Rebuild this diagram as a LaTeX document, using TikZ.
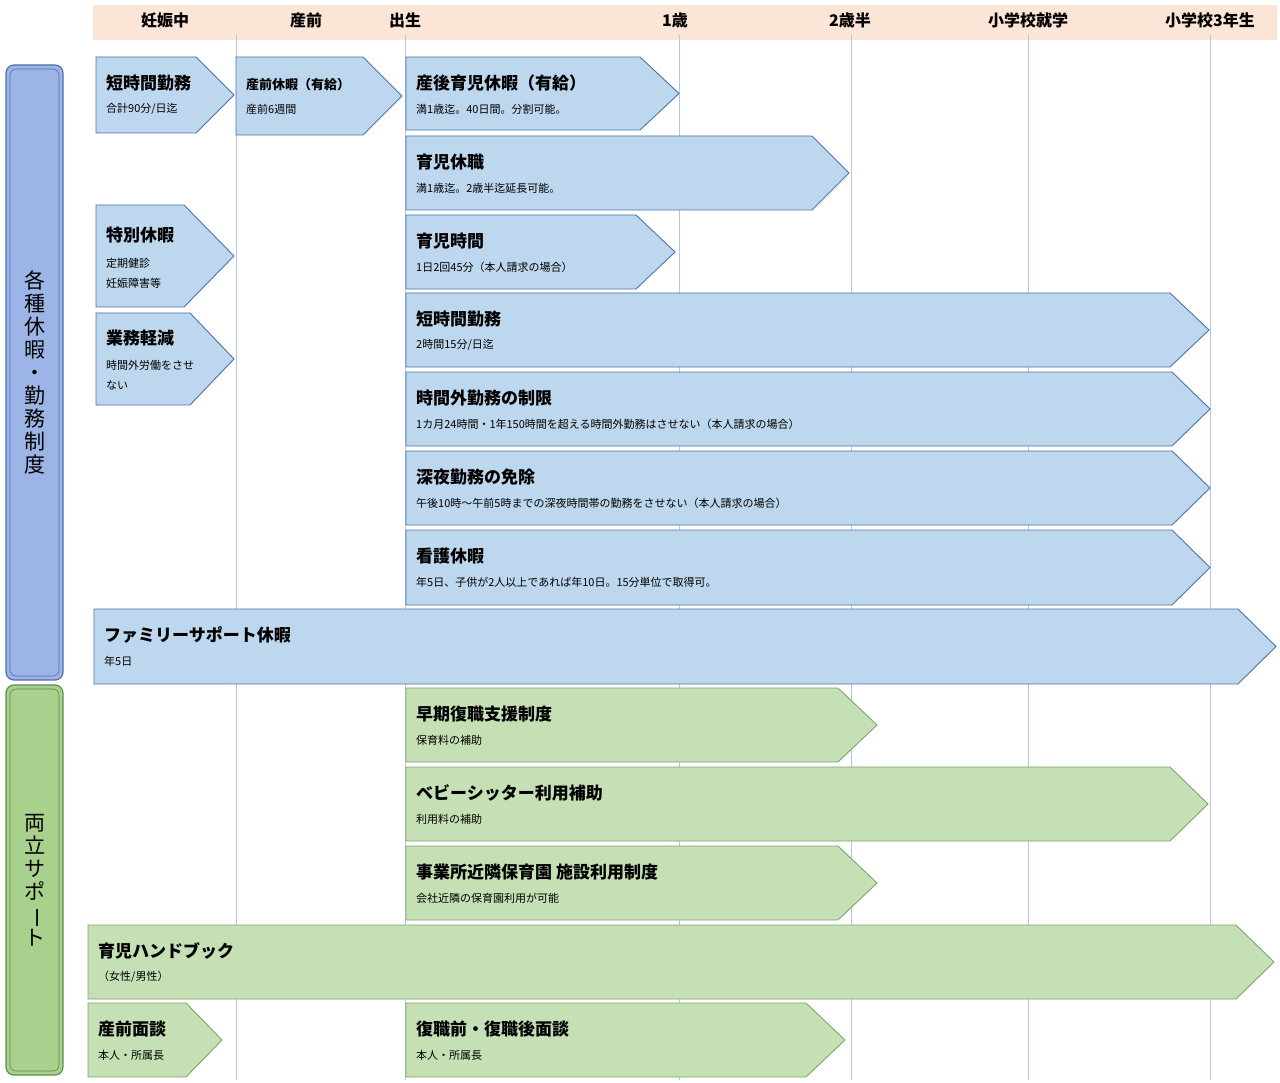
\documentclass[tikz,border=0pt]{standalone}
\usepackage{fontspec}
\usepackage{graphicx}
\setmainfont{Noto Sans CJK JP}
\definecolor{hdr}{HTML}{FBE5D6}
\definecolor{bfill}{HTML}{BDD7EE}
\definecolor{bline}{HTML}{4F71A8}
\definecolor{gfill}{HTML}{C5E0B4}
\definecolor{gline}{HTML}{7FA46A}
\definecolor{vline}{HTML}{B4C7E7}
\definecolor{sideb}{HTML}{9DB5E6}
\definecolor{sidebl}{HTML}{4F6FAF}
\definecolor{sideg}{HTML}{A9D18E}
\definecolor{sidegl}{HTML}{5E8C48}
\tikzset{
 barb/.style={fill=bfill,draw=bline,line width=0.9pt},
 barg/.style={fill=gfill,draw=gline,line width=0.9pt},
 ttl/.style={anchor=west,inner sep=0pt,font=\fontsize{17}{19}\selectfont\bfseries},
 sub/.style={anchor=west,inner sep=0pt,font=\fontsize{11}{15}\selectfont,align=left},
 hd/.style={font=\fontsize{16}{18}\selectfont\bfseries},
}
\newcommand\arr[8]{%
 \draw[#6] (#1,#2) -- (#5,#2) -- (#3,{(#2+#4)/2}) -- (#5,#4) -- (#1,#4) -- cycle;
 \node[ttl] at ({#1+10},{#2+26}) {#7};
 \node[sub] at ({#1+10},{#2+52}) {#8};}
\begin{document}
\begin{tikzpicture}[x=1pt,y=-1pt]
\useasboundingbox (0,0) rectangle (1280,1083);
\fill[hdr] (93,5) rectangle (1277,40);
\foreach \x in {236,405,679,851,1028,1210} \draw[vline,line width=0.8pt] (\x,35) -- (\x,1080);
\node[hd] (h1) at (165,20) {妊娠中};
\node[hd] (h2) at (306,20) {産前};
\node[hd] (h3) at (405,20) {出生};
\node[hd] (h4) at (675,20) {1歳};
\node[hd] (h5) at (850,20) {2歳半};
\node[hd] (h6) at (1028,20) {小学校就学};
\node[hd] (h7) at (1210,20) {小学校3年生};
% side bars
\draw[fill=sideb,draw=sidebl,line width=1.2pt,rounded corners=8pt] (6,65) rectangle (63,680);
\draw[sidebl,line width=0.6pt,rounded corners=6pt] (10,69) rectangle (59,676);
\node[align=center,font=\fontsize{21}{23}\selectfont,inner sep=0pt] (s1) at (34.5,372) {各\\種\\休\\暇\\・\\勤\\務\\制\\度};
\draw[fill=sideg,draw=sidegl,line width=1.2pt,rounded corners=8pt] (6,685) rectangle (63,1075);
\draw[sidegl,line width=0.6pt,rounded corners=6pt] (10,689) rectangle (59,1071);
\node[align=center,font=\fontsize{21}{23}\selectfont,inner sep=0pt] (s2) at (34.5,880) {両\\立\\サ\\ポ\\\rotatebox[origin=c]{-90}{ー}\\ト};
% blue
\arr{96}{57}{234}{133}{196}{barb}{短時間勤務}{合計90分/日迄}
\draw[barb] (236,57) -- (363,57) -- (402,96) -- (363,135) -- (236,135) -- cycle;
\node[anchor=west,inner sep=0pt,font=\fontsize{13}{15}\selectfont\bfseries] at (246,85) {産前休暇（有給）};
\node[sub] at (246,109) {産前6週間};
\arr{406}{57}{679}{130}{640}{barb}{産後育児休暇（有給）}{満1歳迄。40日間。分割可能。}
\arr{406}{136}{849}{210}{812}{barb}{育児休職}{満1歳迄。2歳半迄延長可能。}
\draw[barb] (96,205) -- (184,205) -- (234,256) -- (184,307) -- (96,307) -- cycle;
\node[ttl] at (106,235) {特別休暇};
\node[sub,font=\fontsize{11}{20}\selectfont] at (106,273) {定期健診\\妊娠障害等};
\arr{406}{215}{675}{289}{636}{barb}{育児時間}{1日2回45分（本人請求の場合）}
\draw[barb] (96,313) -- (190,313) -- (234,359) -- (190,405) -- (96,405) -- cycle;
\node[ttl] at (106,338) {業務軽減};
\node[sub,font=\fontsize{11}{20}\selectfont] at (106,375) {時間外労働をさせ\\ない};
\arr{406}{293}{1209}{367}{1170}{barb}{短時間勤務}{2時間15分/日迄}
\arr{406}{372}{1210}{446}{1172}{barb}{時間外勤務の制限}{1カ月24時間・1年150時間を超える時間外勤務はさせない（本人請求の場合）}
\arr{406}{451}{1210}{525}{1172}{barb}{深夜勤務の免除}{午後10時～午前5時までの深夜時間帯の勤務をさせない（本人請求の場合）}
\arr{406}{530}{1210}{605}{1172}{barb}{看護休暇}{年5日、子供が2人以上であれば年10日。15分単位で取得可。}
\arr{94}{609}{1276}{684}{1238}{barb}{ファミリーサポート休暇}{年5日}
% green
\arr{406}{688}{877}{762}{838}{barg}{早期復職支援制度}{保育料の補助}
\arr{406}{767}{1208}{841}{1170}{barg}{ベビーシッター利用補助}{利用料の補助}
\arr{406}{846}{877}{920}{838}{barg}{事業所近隣保育園 施設利用制度}{会社近隣の保育園利用が可能}
\arr{88}{925}{1274}{999}{1236}{barg}{育児ハンドブック}{（女性/男性）}
\arr{88}{1003}{222}{1077}{186}{barg}{産前面談}{本人・所属長}
\arr{406}{1003}{845}{1077}{806}{barg}{復職前・復職後面談}{本人・所属長}
\end{tikzpicture}
\end{document}
